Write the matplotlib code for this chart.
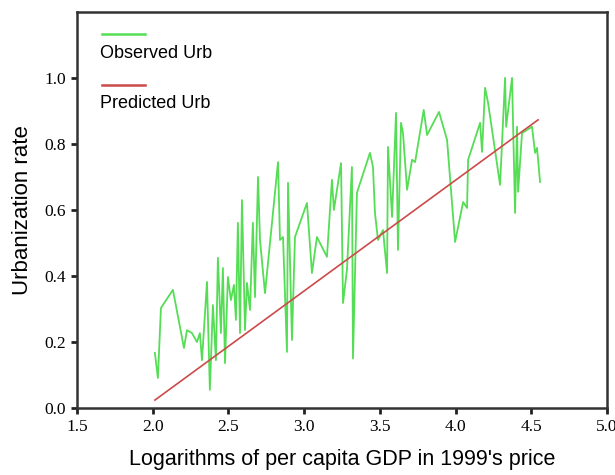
import matplotlib.pyplot as plt

# observed urbanization vs log per capita GDP
log_gdp = [2.015, 2.035, 2.055, 2.134, 2.207, 2.227, 2.260, 2.293, 2.312, 2.326,
           2.359, 2.378, 2.398, 2.418, 2.431, 2.451, 2.464, 2.478, 2.497, 2.517,
           2.537, 2.550, 2.563, 2.577, 2.590, 2.610, 2.623, 2.643, 2.662, 2.676,
           2.696, 2.709, 2.742, 2.828, 2.841, 2.861, 2.887, 2.894, 2.920, 2.940,
           3.019, 3.052, 3.085, 3.151, 3.184, 3.197, 3.244, 3.257, 3.283, 3.316,
           3.323, 3.349, 3.435, 3.455, 3.468, 3.488, 3.521, 3.548, 3.554, 3.581,
           3.607, 3.620, 3.640, 3.653, 3.680, 3.713, 3.733, 3.790, 3.812, 3.891,
           3.944, 3.997, 4.050, 4.076, 4.083, 4.162, 4.175, 4.195, 4.215, 4.294,
           4.327, 4.334, 4.373, 4.393, 4.406, 4.413, 4.439, 4.505, 4.525, 4.538,
           4.558]
urb_obs = [0.167, 0.091, 0.303, 0.358, 0.182, 0.236, 0.227, 0.200, 0.227, 0.145,
           0.382, 0.055, 0.312, 0.145, 0.455, 0.227, 0.424, 0.136, 0.397, 0.327,
           0.373, 0.267, 0.561, 0.227, 0.630, 0.236, 0.379, 0.297, 0.561, 0.336,
           0.700, 0.509, 0.348, 0.745, 0.509, 0.518, 0.170, 0.682, 0.206, 0.518,
           0.621, 0.409, 0.518, 0.458, 0.691, 0.600, 0.742, 0.318, 0.418, 0.730,
           0.150, 0.652, 0.773, 0.730, 0.591, 0.509, 0.539, 0.409, 0.791, 0.579,
           0.894, 0.479, 0.864, 0.833, 0.661, 0.752, 0.745, 0.903, 0.827, 0.897,
           0.812, 0.503, 0.624, 0.606, 0.752, 0.864, 0.776, 0.970, 0.924, 0.676,
           1.000, 0.852, 1.000, 0.591, 0.852, 0.655, 0.833, 0.852, 0.773, 0.788,
           0.685]

# fitted line end points
log_gdp_fit = [2.015, 4.545]
urb_pred = [0.024, 0.873]

fig = plt.figure(figsize=(6.15, 4.75), dpi=100)
ax = fig.add_axes([0.125, 0.141, 0.862, 0.834])

ax.plot(log_gdp, urb_obs, color='#55dd55', lw=1.3)
ax.plot(log_gdp_fit, urb_pred, color='#cc4a4a', lw=1.2)

ax.set_xlim(1.5, 5.0)
ax.set_ylim(0, 1.2)
ax.set_xticks([1.5, 2.0, 2.5, 3.0, 3.5, 4.0, 4.5, 5.0])
ax.set_yticks([0.0, 0.2, 0.4, 0.6, 0.8, 1.0])
ax.set_xticklabels(['1.5', '2.0', '2.5', '3.0', '3.5', '4.0', '4.5', '5.0'],
                   family='Liberation Serif', fontsize=12.5)
ax.set_yticklabels(['0.0', '0.2', '0.4', '0.6', '0.8', '1.0'],
                   family='Liberation Serif', fontsize=12.5)
ax.tick_params(direction='out', length=4, width=2, color='#222222', pad=4)
for s in ax.spines.values():
    s.set_linewidth(1.8)
    s.set_color('#333333')

ax.set_xlabel("Logarithms of per capita GDP in 1999's price",
              family='Liberation Sans', fontsize=15.5, labelpad=10)
ax.set_ylabel('Urbanization rate', family='Liberation Sans', fontsize=16, labelpad=8)

# legend: line above label
ax.plot([0.047, 0.128], [0.944, 0.944], transform=ax.transAxes, color='#55dd55', lw=1.8)
ax.text(0.044, 0.896, 'Observed Urb', transform=ax.transAxes,
        family='Liberation Sans', fontsize=13, va='center')
ax.plot([0.047, 0.128], [0.816, 0.816], transform=ax.transAxes, color='#cc4a4a', lw=1.8)
ax.text(0.044, 0.768, 'Predicted Urb', transform=ax.transAxes,
        family='Liberation Sans', fontsize=13, va='center')

fig.savefig('out.png', dpi=100)
